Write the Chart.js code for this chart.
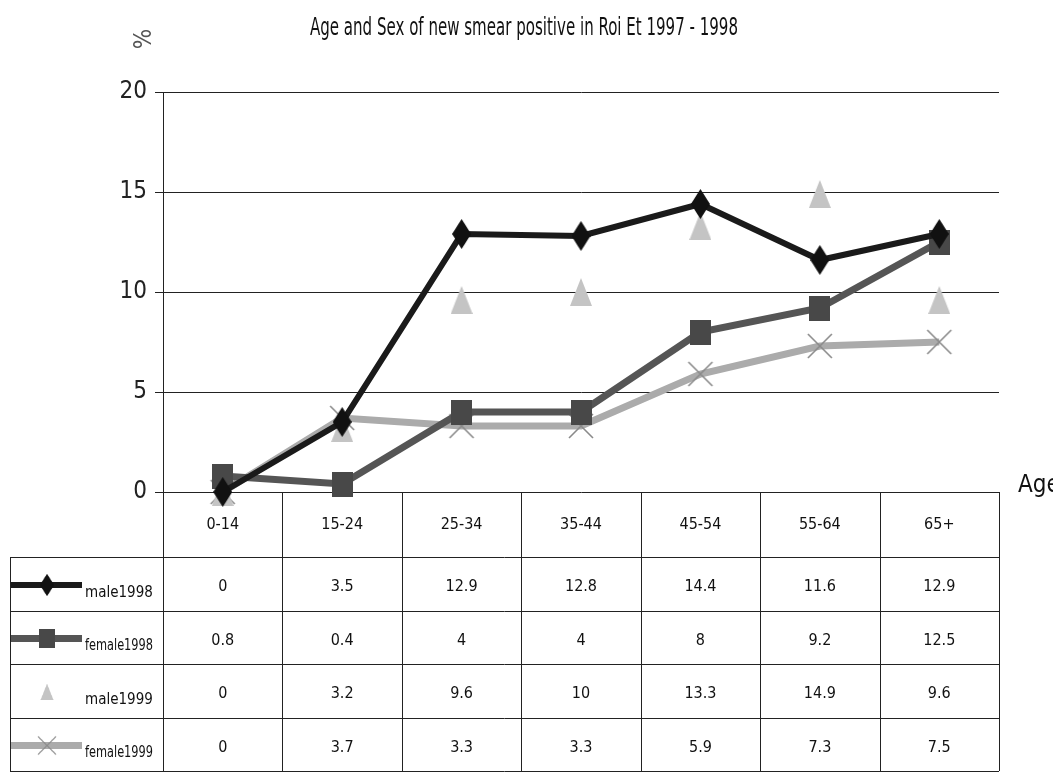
<!DOCTYPE html>
<html>
<head>
<meta charset="utf-8">
<title>Age and Sex of new smear positive in Roi Et 1997 - 1998</title>
<script src="https://cdn.jsdelivr.net/npm/chart.js@4.4.1/dist/chart.umd.min.js"></script>
<style>
  html, body { margin: 0; padding: 0; background: #fff; }
  #wrap { width: 1053px; height: 773px; }
</style>
</head>
<body>
<div id="wrap"><canvas id="chart" width="1053" height="773"></canvas></div>
<script>
// age groups and % of new smear positive cases per group
const ageGroups = ['0-14', '15-24', '25-34', '35-44', '45-54', '55-64', '65+'];
const male1998 = [0, 3.5, 12.9, 12.8, 14.4, 11.6, 12.9];
const female1998 = [0.8, 0.4, 4, 4, 8, 9.2, 12.5];
const male1999 = [0, 3.2, 9.6, 10, 13.3, 14.9, 9.6];
const female1999 = [0, 3.7, 3.3, 3.3, 5.9, 7.3, 7.5];
const seriesNames = ['male1998', 'female1998', 'male1999', 'female1999'];
const yTicks = [0, 5, 10, 15, 20];

const FONT = "'Liberation Sans Narrow', 'DejaVu Sans Condensed', 'Liberation Sans', Arial, sans-serif";

// little canvases used as point markers (also reused in the table legend)
function marker(w, h, paint) {
  const c = document.createElement('canvas');
  c.width = w; c.height = h;
  paint(c.getContext('2d'), w, h);
  return c;
}
const diamond = marker(19, 30, (g, w, h) => {
  g.fillStyle = '#111';
  g.beginPath();
  g.moveTo(w / 2, 0); g.lineTo(w, h / 2); g.lineTo(w / 2, h); g.lineTo(0, h / 2);
  g.closePath(); g.fill();
});
const square = marker(21, 25, (g, w, h) => {
  g.fillStyle = '#484848';
  g.fillRect(0, 0, w, h);
});
const triangle = marker(22, 28, (g, w, h) => {
  g.fillStyle = '#c4c4c4';
  g.beginPath();
  g.moveTo(w / 2, 0); g.lineTo(w, h); g.lineTo(0, h);
  g.closePath(); g.fill();
});
const cross = marker(30, 30, (g, w, h) => {
  g.strokeStyle = '#8a8a8a';
  g.lineWidth = 1.6;
  g.beginPath();
  g.moveTo(3, 3); g.lineTo(w - 3, h - 3);
  g.moveTo(w - 3, 3); g.lineTo(3, h - 3);
  g.stroke();
});

const styles = [
  { color: '#1a1a1a', width: 6, point: diamond, line: true },
  { color: '#555555', width: 7, point: square, line: true },
  { color: '#c4c4c4', width: 0, point: triangle, line: false },
  { color: '#ababab', width: 7, point: cross, line: true }
];
const seriesData = [male1998, female1998, male1999, female1999];

// title, axis captions and the data table under the plot
const tablePlugin = {
  id: 'dataTable',
  afterDraw(chart) {
    const { ctx, chartArea } = chart;
    const x = chart.scales.x;
    const colW = (chartArea.right - chartArea.left) / ageGroups.length;
    const top = chartArea.bottom;
    const rows = [top + 65, top + 119, top + 172, top + 226, top + 279];
    const left = 10;

    ctx.save();
    ctx.fillStyle = '#111';
    ctx.textAlign = 'center';
    ctx.textBaseline = 'middle';
    ctx.font = '24px ' + FONT;
    ctx.fillText('Age and Sex of new smear positive in Roi Et 1997 - 1998', 524, 29, 428);

    ctx.save();
    ctx.translate(145, 39);
    ctx.rotate(-Math.PI / 2);
    ctx.fillStyle = '#555';
    ctx.font = '24px ' + FONT;
    ctx.fillText('%', 0, 0);
    ctx.restore();

    ctx.textAlign = 'left';
    ctx.font = '24px ' + FONT;
    ctx.fillText('Age', 1018, 486);

    // grid of the table
    ctx.strokeStyle = '#222';
    ctx.lineWidth = 1;
    ctx.beginPath();
    rows.forEach(y => { ctx.moveTo(left, y + 0.5); ctx.lineTo(chartArea.right, y + 0.5); });
    for (let i = 0; i <= ageGroups.length; i++) {
      const cx = Math.round(chartArea.left + i * colW) + 0.5;
      ctx.moveTo(cx, top); ctx.lineTo(cx, rows[4]);
    }
    ctx.moveTo(left + 0.5, rows[0]); ctx.lineTo(left + 0.5, rows[4]);
    ctx.stroke();

    // header: age groups
    ctx.textAlign = 'center';
    ctx.font = '16px ' + FONT;
    ctx.fillStyle = '#111';
    ageGroups.forEach((g, i) => ctx.fillText(g, x.getPixelForValue(i), (top + rows[0]) / 2));

    // one row per series: legend key then values
    seriesData.forEach((vals, r) => {
      const y0 = rows[r], y1 = rows[r + 1];
      const mid = (y0 + y1) / 2;
      const st = styles[r];
      if (st.line) {
        ctx.strokeStyle = st.color;
        ctx.lineWidth = st.width;
        ctx.beginPath();
        ctx.moveTo(left + 1, mid + 1); ctx.lineTo(82, mid + 1);
        ctx.stroke();
      }
      const p = st.point;
      const s = r === 2 ? 0.6 : 0.75;
      ctx.drawImage(p, 47 - p.width * s / 2, mid + 1 - p.height * s / 2, p.width * s, p.height * s);
      ctx.textAlign = 'left';
      ctx.fillStyle = '#111';
      ctx.font = '15px ' + FONT;
      ctx.fillText(seriesNames[r], 85, mid + 9, 68);
      ctx.textAlign = 'center';
      ctx.font = '16px ' + FONT;
      vals.forEach((v, i) => ctx.fillText(String(v), x.getPixelForValue(i), mid + 3));
    });
    ctx.restore();
  }
};

new Chart(document.getElementById('chart'), {
  type: 'line',
  data: {
    labels: ageGroups,
    datasets: seriesData.map((vals, i) => ({
      label: seriesNames[i],
      data: vals,
      borderColor: styles[i].color,
      backgroundColor: styles[i].color,
      borderWidth: styles[i].width,
      showLine: styles[i].line,
      tension: 0,
      pointStyle: styles[i].point,
      pointRadius: 10,
      pointHoverRadius: 10,
      clip: false
    }))
  },
  options: {
    responsive: false,
    animation: false,
    events: [],
    layout: { padding: { top: 92, right: 54, bottom: 281, left: 0 } },
    plugins: { legend: { display: false }, tooltip: { enabled: false }, title: { display: false } },
    scales: {
      x: { type: 'category', offset: true, display: false },
      y: {
        min: yTicks[0],
        max: yTicks[yTicks.length - 1],
        ticks: { stepSize: yTicks[1] - yTicks[0], color: '#222', padding: 8, font: { family: FONT, size: 24 } },
        grid: { color: '#222', lineWidth: 1, tickLength: 8 },
        border: { color: '#222', width: 1 },
        afterFit(scale) { scale.width = 163; }
      }
    }
  },
  plugins: [tablePlugin]
});
</script>
</body>
</html>
